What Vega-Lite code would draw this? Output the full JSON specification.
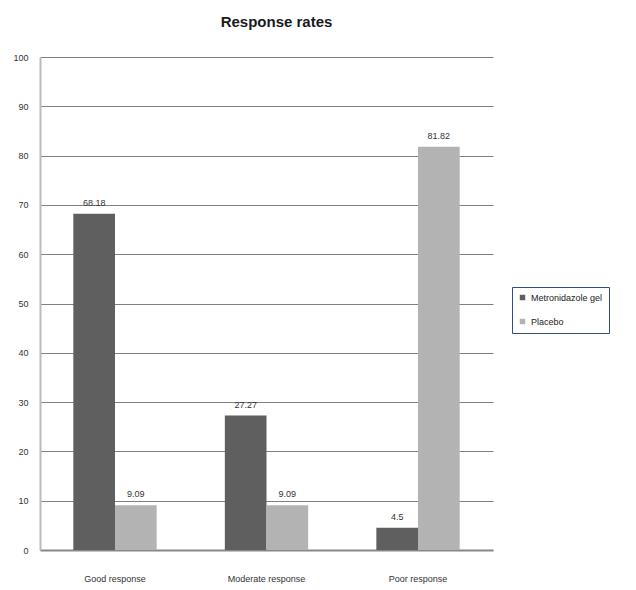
{
  "$schema": "https://vega.github.io/schema/vega-lite/v6.json",
  "width": 453,
  "height": 493,
  "padding": {"left": 12, "top": 15, "right": 5, "bottom": 5},
  "background": "white",
  "title": {"text": "Response rates", "font": "Liberation Sans", "fontSize": 15, "fontWeight": "bold", "color": "#1a1a1a", "offset": 23, "dx": 10},
  "data": {"values": [
    {"category": "Good response", "series": "Metronidazole gel", "value": 68.18},
    {"category": "Good response", "series": "Placebo", "value": 9.09},
    {"category": "Moderate response", "series": "Metronidazole gel", "value": 27.27},
    {"category": "Moderate response", "series": "Placebo", "value": 9.09},
    {"category": "Poor response", "series": "Metronidazole gel", "value": 4.5},
    {"category": "Poor response", "series": "Placebo", "value": 81.82}
  ]},
  "config": {
    "view": {"stroke": null},
    "axis": {"labelFont": "Liberation Sans", "labelFontSize": 9, "labelColor": "#333", "ticks": false, "title": null}
  },
  "encoding": {
    "x": {"field": "category", "type": "nominal", "scale": {"paddingInner": 0.45, "paddingOuter": 0.22}, "axis": {"labelAngle": 0, "labelPadding": 24, "domainColor": "#888", "domainWidth": 2}},
    "xOffset": {"field": "series", "type": "nominal"},
    "y": {"field": "value", "type": "quantitative", "scale": {"domain": [0, 100]}, "axis": {"values": [0,10,20,30,40,50,60,70,80,90,100], "labelOverlap": false, "gridColor": "#808080", "gridWidth": 1.2, "domainColor": "#bbb", "domainWidth": 2, "labelPadding": 12}}
  },
  "layer": [
    {
      "mark": {"type": "bar"},
      "encoding": {
        "color": {"field": "series", "type": "nominal", "scale": {"range": ["#5f5f5f", "#b3b3b3"]},
          "legend": {"title": null, "orient": "none", "legendX": 472, "legendY": 230, "symbolType": "square", "symbolSize": 30, "labelFont": "Liberation Sans", "labelFontSize": 9, "labelColor": "#222", "strokeColor": "#2f4f7f", "padding": 6, "rowPadding": 14, "labelLimit": 200}}
      }
    },
    {
      "mark": {"type": "text", "dy": -11, "font": "Liberation Sans", "fontSize": 9, "color": "#333"},
      "encoding": {"text": {"field": "value", "type": "quantitative"}}
    }
  ]
}
